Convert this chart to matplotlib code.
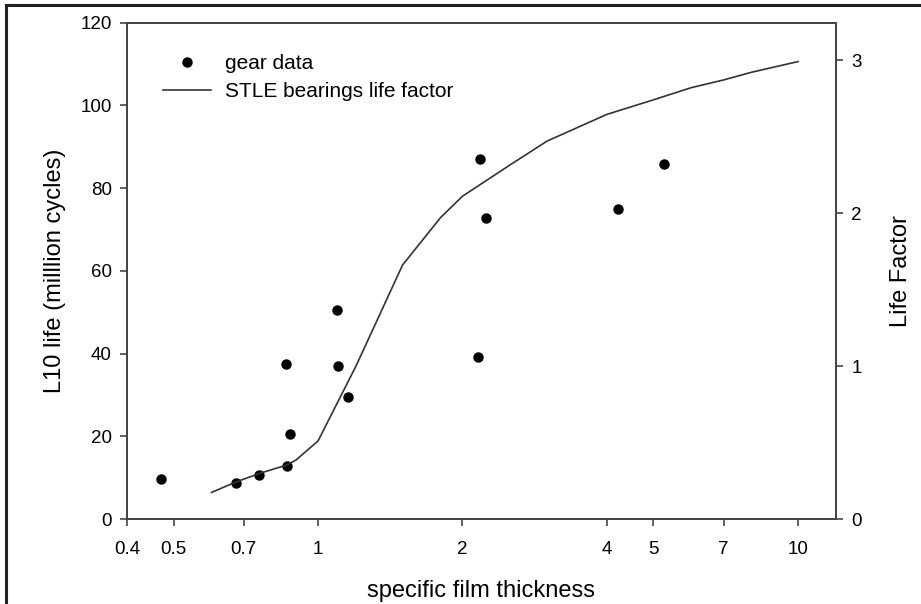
import matplotlib
matplotlib.use("Agg")
import matplotlib.pyplot as plt
from matplotlib.lines import Line2D
from matplotlib.ticker import FixedLocator, NullLocator, FixedFormatter

plt.rcParams['font.family'] = ['Liberation Sans', 'DejaVu Sans']

# gear test data: specific film thickness vs L10 life (million cycles)
gear_lambda = [0.47, 0.674, 0.755, 0.86, 0.876, 0.859, 1.094, 1.102, 1.157, 2.151, 2.18, 2.243, 4.21, 5.25]
gear_life = [9.7, 8.7, 10.6, 12.9, 20.5, 37.6, 50.5, 37.0, 29.6, 39.1, 87.0, 72.9, 75.0, 85.8]

# STLE bearings life factor curve
stle_lambda = [0.6, 0.677, 0.757, 0.861, 0.9, 1.0, 1.2, 1.5, 1.8, 2.0, 2.5, 3.0, 4.0, 5.0, 6.0, 7.0, 8.0, 10.0]
stle_factor = [0.174, 0.244, 0.299, 0.353, 0.386, 0.51, 1.0, 1.66, 1.97, 2.11, 2.31, 2.47, 2.645, 2.74, 2.82, 2.87, 2.92, 2.99]

x_ticks = [0.4, 0.5, 0.7, 1, 2, 4, 5, 7, 10]
x_tick_labels = ['0.4', '0.5', '0.7', '1', '2', '4', '5', '7', '10']

fig = plt.figure(figsize=(9.21, 6.04), dpi=100)
ax = fig.add_axes([0.1379, 0.1407, 0.7698, 0.8217])
ax2 = ax.twinx()

edge = '#444444'
for a in (ax, ax2):
    for s in a.spines.values():
        s.set_color(edge)
        s.set_linewidth(1.3)

ax.plot(gear_lambda, gear_life, 'o', color='black', markersize=6.5, label='gear data', zorder=3)
ln, = ax2.plot(stle_lambda, stle_factor, '-', color='#333333', linewidth=1.2, label='STLE bearings life factor')

ax.set_xscale('log')
ax.set_xlim(0.4, 12.0)
ax.xaxis.set_major_locator(FixedLocator(x_ticks))
ax.xaxis.set_major_formatter(FixedFormatter(x_tick_labels))
ax.xaxis.set_minor_locator(NullLocator())

ax.set_ylim(0, 120)
ax.set_yticks(range(0, 121, 20))
ax2.set_ylim(0, 3.244)
ax2.set_yticks([0, 1, 2, 3])

for a in (ax, ax2):
    a.tick_params(direction='out', length=5, width=1.2, color=edge, labelsize=13.5, pad=6)
ax.tick_params(axis='x', pad=11)

ax.set_xlabel('specific film thickness', fontsize=17, labelpad=16)
ax.set_ylabel('L10 life (milllion cycles)', fontsize=17, labelpad=10)
ax2.set_ylabel('Life Factor', fontsize=17, labelpad=20)

handles = [ax.lines[0], ln]
ax.legend(handles, [h.get_label() for h in handles], loc='upper left', frameon=False,
          fontsize=15, bbox_to_anchor=(0.025, 0.975), handlelength=2.3, handletextpad=0.65,
          labelspacing=0.45)

# frame lines along the top and left edge of the picture
fig.add_artist(Line2D([6 / 921, 6 / 921], [0, 1 - 5 / 604], color='#222222', linewidth=2.2))
fig.add_artist(Line2D([6 / 921, 1], [1 - 5 / 604, 1 - 5 / 604], color='#222222', linewidth=2.2))

fig.savefig('out.png', dpi=100)
